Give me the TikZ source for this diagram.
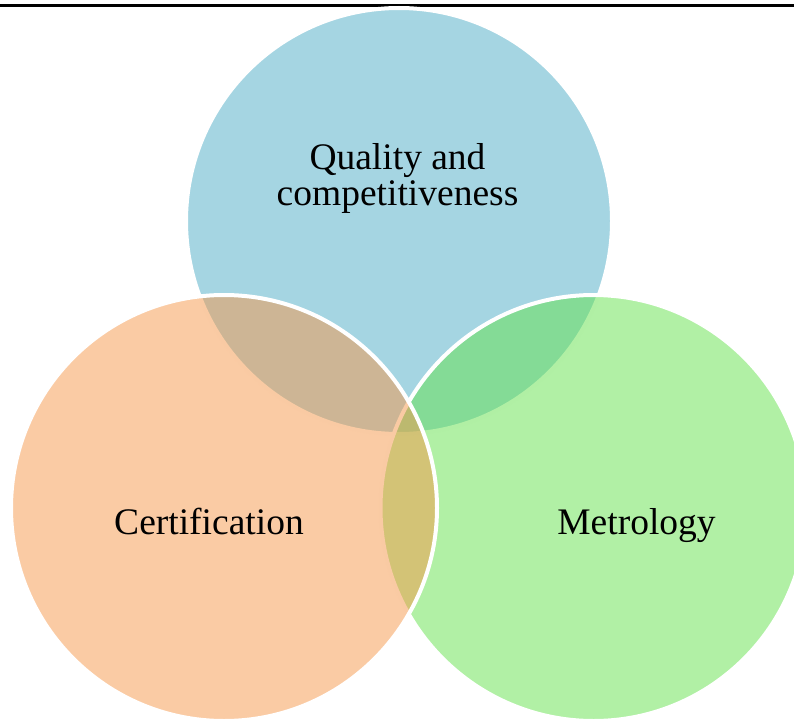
\documentclass[tikz,border=0pt]{standalone}
\usepackage{fontspec}
\setmainfont{Liberation Serif}
\definecolor{vennblue}{RGB}{75,171,197}
\definecolor{venngreen}{RGB}{99,225,75}
\definecolor{vennorange}{RGB}{245,151,73}

\begin{document}
\begin{tikzpicture}[x=1pt, y=-1pt,
    venn/.style={circle, draw=white, line width=4pt, fill opacity=0.5, minimum size=426pt, inner sep=0pt},
    label/.style={anchor=base, align=center, font=\fontsize{37.5}{36}\selectfont}]
\useasboundingbox (0,0) rectangle (794,722);
    \draw[line width=2.5pt]
(0,5.7) -- (794,5.7)
;
% circles: blue first, then green, orange on top
    \node[venn, fill=vennblue] (Quality) at (399,221) {};
    \node[venn, fill=venngreen] (Metro) at (593.5,508) {};
    \node[venn, fill=vennorange] (Cert) at (224,508) {};
% texts
    \node[label] (QualityText) at (397.5,205) {Quality and\\competitiveness};
    \node[label] (CertText) at (209,534) {Certification};
    \node[label] (MetroText) at (636.5,534) {Metrology};
\end{tikzpicture}
\end{document}
